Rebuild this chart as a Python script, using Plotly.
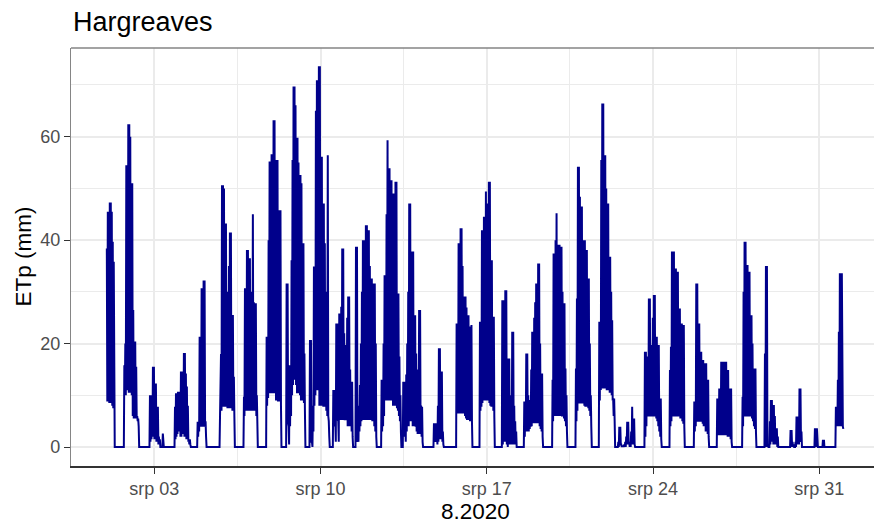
import pandas as pd
import plotly.graph_objects as go

# ---------------- data (hours since 2020-08-01 00:00, hourly hi / half-hour lo readings) ----------------
band_start = [0.0, 17.7, 43.6, 68.9, 91.8, 114.4, 138.6, 161.5, 181.7, 205.3, 228.9, 251.8,
              277.7, 299.6, 330.6, 353.5, 377.1, 399.7, 421.9, 450.5, 474.1, 497.7, 516.9,
              543.8, 569.1, 593.7, 616.9, 642.5, 665.1, 691.0, 715.6, 723.7, 736.8]

hi00 = [38.4, 45.5, 45.5, 47.3, 47.3, 45.5, 39.7, 35.8]
lo00 = [8.8, 8.8, 8.5, 8.5, 8.5, 8.0, 7.5, 7.5]
hi01 = [15.8, 20, 54.5, 54.5, 62.4, 62.4, 60, 51, 51, 26.5, 20.4, 20.4, 15.5, 6, 5.5]
lo01 = [10, 10, 11, 11, 10.5, 10.5, 10.5, 10, 6, 5.5, 5.5, 5.5, 5.5, 5, 4]
hi02 = [10, 10, 6, 15.5, 15.5, 12.3, 12.3, 7.8, 7.8, 2, 1.5, 0, 0, 2.6]
lo02 = [1, 1.5, 2, 2, 1.5, 1.5, 1, 1, 0.5, 0.5, 0, 0, 0, 0]
hi03 = [7.8, 10.4, 10.4, 10.7, 10.7, 10, 14.6, 14.6, 12, 18.2, 18.2, 14.2, 11.7, 8, 1.5, 1.5]
lo03 = [1.5, 2, 2.5, 3, 3, 2, 2, 2.5, 2.5, 2, 2, 1.5, 1.5, 1, 0.5, 0.5]
hi04 = [4.9, 4.9, 21.3, 21.3, 30.7, 30.7, 32.2, 32.2, 5]
lo04 = [2, 3, 3.9, 3.9, 3.9, 3.9, 3.9, 3.9, 2]
hi05 = [6.5, 18, 50.6, 50.6, 50, 43.2, 43.2, 30, 30, 35, 41.5, 41.5, 25.5, 25.5, 13.6]
lo05 = [4, 7, 7.8, 7.8, 7.8, 7.8, 7.8, 7.5, 7.5, 7.5, 7.5, 7.5, 7, 7, 6]
hi06 = [9.7, 30.7, 30.7, 38.1, 38.1, 36.5, 36.5, 30, 25, 45, 28, 27.8, 27.8, 10]
lo06 = [6, 7, 7, 7, 7, 7, 7, 7, 7, 7, 7, 7, 6, 5]
hi07 = [21.3, 21.3, 40, 55.2, 55.2, 56.6, 56.6, 63.2, 63.2, 55.5, 55.5, 55.5, 45.8, 45.8, 45.8]
lo07 = [8, 9.5, 10.4, 10.4, 10.4, 10.4, 10.4, 10.4, 10.4, 9, 9, 8.8, 8.8, 8.8, 8]
hi08 = [31.6, 31.6, 4, 15.8, 15.8, 36.1, 55.5, 69.7, 69.7, 66.1, 59.8, 59.8, 55, 52.6, 52.6, 51, 39.4, 39.4, 18.1]
lo08 = [4.6, 4.6, 0.5, 4, 6, 10, 12, 13, 13, 12, 10.4, 10.4, 10.4, 10, 9, 9, 9, 8.5, 7]
hi09 = [20.7, 20.7, 1, 8, 34.9, 34.9, 65, 70.9, 70.9, 73.6, 73.6, 56.1, 56.1, 47.1, 47.1, 39.4, 30, 20, 56.4, 5]
lo09 = [2, 1, 0, 3, 8, 10, 11, 11, 11, 8, 8, 8, 8, 7.8, 7.8, 7.8, 7, 6, 6, 2]
hi10 = [11, 11, 5, 23.9, 23.9, 5, 25.8, 25.8, 27.1, 38.4, 38.4, 22, 19.7, 19.7, 25, 29.1, 29.1, 15, 12.6, 12.6]
lo10 = [4, 4, 1, 5.2, 5.2, 1, 5.2, 5.2, 5.2, 5.2, 5.2, 5.2, 5.2, 5.2, 4, 4, 4, 4, 3, 2]
hi11 = [38.7, 38.7, 4, 8, 12, 20, 30, 40, 40, 40, 42.9, 42.9, 41.9, 41.9, 35, 32.6, 32.6, 25, 31.6, 31.6, 20]
lo11 = [2, 1, 1, 3, 4, 5, 5.2, 5.2, 5.2, 5.2, 5.2, 5.2, 5.2, 5.2, 5.2, 5.2, 5, 5, 4, 3, 2]
hi12 = [13, 13, 20, 33.2, 33.2, 45, 59.3, 53.9, 53.9, 51.6, 51.6, 49, 49, 49, 51.3, 51.3, 29.7, 29.7, 17.5, 10]
lo12 = [3, 4, 6, 9, 9, 9, 9, 9, 9, 9, 9, 8, 8, 8, 8, 7.5, 7, 6, 5, 3]
hi13 = [12.6, 12.6, 5, 14, 20, 30, 47.1, 47.1, 37.8, 37.8, 37.8, 25.5, 25.5, 18.1, 15, 14, 26.5, 26.5, 8, 7.8]
lo13 = [2, 2, 1, 3, 4, 4, 5, 5, 5, 4, 4, 4, 3.9, 3, 2.5, 2.5, 2.5, 2.5, 2, 1]
hi14 = [4.6, 4.6, 4.6, 3, 8, 19.1, 19.1, 14.6, 14.6, 3]
lo14 = [1, 1, 1, 0.5, 1, 1.5, 1.5, 1.5, 1, 0.5]
hi15 = [23.9, 23.9, 39.4, 39.4, 42.3, 42.3, 35, 29.1, 29.1, 29.1, 27, 25.5, 25.5, 23.3, 23.3, 23.6]
lo15 = [6.5, 6.5, 6.5, 6.5, 6.5, 6.5, 6.5, 6.5, 6, 5.5, 5.2, 5.2, 5.2, 5, 5, 5]
hi16 = [24.2, 24.2, 41.9, 41.9, 44.5, 44.5, 49.4, 47.1, 47.1, 51.3, 51.3, 36.1, 36.1, 25.2, 25.2]
lo16 = [7, 7.8, 8.5, 9, 9, 9, 9, 9, 9, 8.5, 8, 7.8, 7.8, 7, 6]
hi17 = [28.4, 28.4, 28.4, 30.3, 30.3, 5, 17.1, 17.1, 10, 8, 22.3, 22.3, 8, 5, 3]
lo17 = [0.5, 1, 1, 1, 0.5, 0, 0.5, 1, 0.5, 0.5, 0.5, 1, 0.5, 0.5, 0]
hi18 = [8.8, 8.8, 18.1, 18.1, 10, 9.1, 9.1, 15, 22.3, 22.3, 25, 28, 31.6, 31.6, 35.5, 35.5, 20, 14.2, 14.2]
lo18 = [2, 3, 3, 3, 3, 3.5, 3.9, 4, 4.6, 4.6, 4.6, 4.6, 4.6, 4.6, 4.6, 4, 3.5, 3, 2]
hi19 = [13, 37.4, 37.4, 40, 45.2, 39.1, 39.1, 39.1, 38.7, 38.7, 30, 27.8, 27.8, 15.2, 10]
lo19 = [5, 6, 6, 6, 6, 6, 6, 6, 6, 5.9, 5.9, 5.5, 5, 4, 3]
hi20 = [15.2, 28.7, 54.2, 54.2, 48.4, 46.5, 46.5, 40, 40, 40, 38.1, 38.1, 32.6, 32.6, 20, 10]
lo20 = [5, 7, 8.4, 8.4, 8.4, 8.4, 8.4, 8.4, 8, 7.8, 7.8, 7.8, 7.5, 7, 6, 4]
hi21 = [24.2, 24.2, 55.5, 66.4, 66.4, 56.4, 56.4, 50, 47.1, 47.1, 36.8, 36.8, 30, 24.5, 9.4, 9.4]
lo21 = [9, 11, 11.3, 11.3, 11.3, 11.3, 11.3, 11, 11, 11, 10.5, 10.5, 10, 9, 6, 5]
hi22 = [1, 3.9, 3.9, 0.5, 0.3, 0.3, 0.5, 1, 2, 4.9, 4.9, 1, 1, 3, 7.8, 5.5, 5.5]
lo22 = [0, 0.5, 0.5, 0, 0, 0, 0, 0, 0.5, 0.5, 0.5, 0, 0, 0.5, 0.5, 0.5, 0.5]
hi23 = [18.4, 18.4, 17.5, 17.5, 28.7, 28.7, 19.7, 19.7, 25, 29.4, 29.4, 21.3, 21.3, 19.7, 19.7, 9.4, 9.4]
lo23 = [2, 4, 5.9, 5.9, 5.9, 5.9, 5.9, 5.9, 5.9, 5.9, 5.9, 5.5, 5, 4, 3, 2, 1.5]
hi24 = [14.9, 19.4, 37.8, 37.8, 37.8, 34.5, 34.5, 33.9, 33.9, 26.8, 26.8, 23.9, 23.9, 23.6, 23.6]
lo24 = [4, 5, 5.9, 5.9, 5.9, 5.9, 5.9, 5.9, 5.9, 5.9, 5.5, 5.5, 5, 4.5, 4]
hi25 = [8.8, 8.8, 31.6, 31.6, 23.9, 23.9, 18.4, 18.4, 16.8, 16.8, 14, 16.2, 16.2, 13, 13]
lo25 = [3, 4, 4.9, 4.9, 4.9, 4.9, 4.9, 4.9, 4.5, 4, 4, 3, 3, 2.5, 2]
hi26 = [9.4, 9.4, 11.3, 11.3, 16.5, 16.5, 14, 16.5, 16.5, 16.5, 14.9, 14.9, 11.3, 11.3, 11.3]
lo26 = [2.3, 2.3, 2.3, 2.3, 2.3, 2.3, 2.3, 2.3, 2.3, 2.3, 2, 2, 2, 1.5, 1]
hi27 = [9.7, 30, 39.7, 39.7, 35.2, 35.2, 33.9, 33.9, 25.5, 25.5, 20, 15.2, 15.2, 15.2]
lo27 = [4, 5.9, 5.9, 5.9, 5.9, 5.9, 5.9, 5.9, 5.9, 5.5, 5, 4, 3.5, 3]
hi28 = [18.1, 35, 35, 0.5, 0, 5, 9.1, 9.1, 8.1, 8.1, 6, 3, 3.6, 2]
lo28 = [0, 0, 0, 0, 0, 0.5, 1, 1, 0.5, 0.5, 0.5, 0.5, 0, 0]
hi29 = [3.3, 3.3, 1, 0.5, 0, 1, 5.9, 5.9, 4, 11.3, 11.3, 3]
lo29 = [0, 0, 0, 0, 0, 0, 0.5, 0.5, 0.5, 1, 1, 0]
hi30 = [3.6, 3.6, 3.6]
lo30 = [0, 0, 0]
hi30b = [1.4, 1.4]
lo30b = [0, 0]
hi31 = [7.8, 7.8, 13, 22.3, 33.6, 33.6, 33.6, 4]
lo31 = [4, 4, 4, 4, 4, 4, 4, 3.5]

band_hi = [hi00, hi01, hi02, hi03, hi04, hi05, hi06, hi07, hi08, hi09, hi10, hi11, hi12, hi13, hi14,
           hi15, hi16, hi17, hi18, hi19, hi20, hi21, hi22, hi23, hi24, hi25, hi26, hi27, hi28, hi29,
           hi30, hi30b, hi31]
band_lo = [lo00, lo01, lo02, lo03, lo04, lo05, lo06, lo07, lo08, lo09, lo10, lo11, lo12, lo13, lo14,
           lo15, lo16, lo17, lo18, lo19, lo20, lo21, lo22, lo23, lo24, lo25, lo26, lo27, lo28, lo29,
           lo30, lo30b, lo31]

x_ticks = ["2020-08-03", "2020-08-10", "2020-08-17", "2020-08-24", "2020-08-31"]
x_ticktext = ["srp 03", "srp 10", "srp 17", "srp 24", "srp 31"]
x_minor = ["2020-07-30 12:00", "2020-08-06 12:00", "2020-08-13 12:00", "2020-08-20 12:00", "2020-08-27 12:00"]
y_ticks = [0, 20, 40, 60]
y_minor = [10, 30, 50, 70]

# ---------------- build the series ----------------
base = pd.Timestamp("2020-08-01 00:00")
hours, vals = [], []
nb = len(band_start)
for k in range(nb):
    s = band_start[k]
    if k > 0:
        hours.append(s - 0.5); vals.append(0.0)
    for i, (h, l) in enumerate(zip(band_hi[k], band_lo[k])):
        hours.append(s + i); vals.append(h)
        hours.append(s + i + 0.5); vals.append(l)
    if k < nb - 1:
        hours.append(s + len(band_hi[k])); vals.append(0.0)

times = [base + pd.Timedelta(hours=h) for h in hours]

fig = go.Figure()
fig.add_trace(go.Scatter(x=times, y=vals, mode="lines",
                         line=dict(color="#00008B", width=2.0), hoverinfo="skip"))

x_lo = base - pd.Timedelta(hours=36.2)
x_hi = base + pd.Timedelta(hours=775.3)

FONT = "Liberation Sans, Arial, sans-serif"
fig.update_layout(
    width=874, height=524,
    margin=dict(l=71, r=0, t=48, b=58),
    paper_bgcolor="white", plot_bgcolor="white",
    showlegend=False,
    font=dict(family=FONT, color="#4D4D4D", size=18),
    xaxis=dict(
        range=[x_lo, x_hi], type="date",
        tickmode="array", tickvals=x_ticks, ticktext=x_ticktext,
        showgrid=True, gridcolor="#EBEBEB", gridwidth=2,
        minor=dict(tickvals=x_minor, showgrid=True, gridcolor="#EBEBEB", gridwidth=1.2, ticks=""),
        ticks="outside", ticklen=6, tickwidth=1.4, tickcolor="#333333",
        showline=True, linecolor="#333333", linewidth=1.6,
        tickfont=dict(family=FONT, size=18, color="#4D4D4D"),
        zeroline=False, fixedrange=True,
    ),
    yaxis=dict(
        range=[-3.67, 77.15],
        tickmode="array", tickvals=y_ticks,
        showgrid=True, gridcolor="#EBEBEB", gridwidth=2,
        minor=dict(tickvals=y_minor, showgrid=True, gridcolor="#EBEBEB", gridwidth=1.2, ticks=""),
        ticks="outside", ticklen=6, tickwidth=1.4, tickcolor="#333333",
        showline=True, linecolor="#858585", linewidth=1.4,
        tickfont=dict(family=FONT, size=18, color="#4D4D4D"),
        zeroline=False, fixedrange=True,
    ),
    shapes=[dict(type="line", xref="paper", yref="paper", x0=0, x1=1.0, y0=1, y1=1,
                 line=dict(color="#858585", width=1.4))],
    annotations=[
        dict(text="Hargreaves", xref="paper", yref="paper", x=0.0, y=1.0622,
             xanchor="left", yanchor="middle", showarrow=False,
             font=dict(family=FONT, size=27, color="black")),
        dict(text="8.2020", xref="paper", yref="paper", x=(475.5 - 71) / 803, y=-0.110,
             xanchor="center", yanchor="middle", showarrow=False,
             font=dict(family=FONT, size=22.5, color="black")),
        dict(text="ETp (mm)", xref="paper", yref="paper", x=(22.5 - 71) / 803, y=0.5,
             xanchor="center", yanchor="middle", showarrow=False, textangle=-90,
             font=dict(family=FONT, size=22.5, color="black")),
    ],
)

fig.write_html("out.html")
